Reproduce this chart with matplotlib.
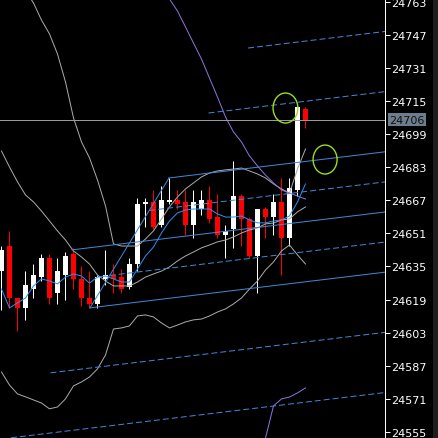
import matplotlib
matplotlib.use("Agg")
import matplotlib.pyplot as plt
from matplotlib.patches import Rectangle, Ellipse

plt.rcParams["font.family"] = ["Liberation Sans Narrow", "DejaVu Sans"]

# ---- candles, one per bar (bar 0 = leftmost visible) ----
OPEN = [24633, 24645, 24620, 24615, 24624, 24630, 24639, 24622, 24631, 24641,
        24629, 24620, 24617, 24629, 24631, 24630, 24625, 24636, 24665, 24666,
        24655, 24666, 24667, 24666, 24655, 24663, 24667, 24659, 24650, 24653,
        24669, 24658, 24640, 24663, 24659, 24666, 24649, 24672, 24711]
HIGH = [24645, 24652, 24620, 24633, 24636, 24641, 24641, 24639, 24642, 24644,
        24635, 24633, 24631, 24643, 24636, 24634, 24639, 24668, 24668, 24672,
        24674, 24678, 24672, 24672, 24672, 24672, 24674, 24670, 24655, 24686,
        24670, 24659, 24663, 24664, 24670, 24678, 24678, 24712, 24712]
LOW = [24614, 24615, 24604, 24609, 24620, 24628, 24617, 24617, 24619, 24624,
       24616, 24615, 24615, 24626, 24622, 24622, 24624, 24633, 24654, 24653,
       24654, 24665, 24663, 24650, 24649, 24660, 24656, 24649, 24639, 24644,
       24645, 24639, 24622, 24649, 24650, 24631, 24645, 24669, 24702]
CLOSE = [24643, 24620, 24615, 24626, 24631, 24639, 24620, 24633, 24640, 24629,
         24620, 24617, 24630, 24631, 24629, 24624, 24636, 24665, 24666, 24654,
         24667, 24667, 24665, 24655, 24666, 24667, 24658, 24650, 24652, 24669,
         24658, 24640, 24663, 24659, 24666, 24649, 24673, 24712, 24706]

# ---- indicators ----
FAST_MA = [24624.1, 24615.0, 24617.4, 24619.8, 24625.6, 24629.0, 24628.0, 24626.6,
           24629.9, 24631.4, 24630.4, 24627.0, 24629.9, 24630.4, 24629.0, 24627.5,
           24627.5, 24633.8, 24640.1, 24644.4, 24651.2, 24657.0, 24660.9, 24662.3,
           24662.8, 24662.8, 24662.8, 24660.4, 24658.9, 24658.9, 24659.4, 24657.5,
           24656.1, 24656.1, 24657.0, 24657.5, 24659.4, 24666.2, 24674.9]
BB_UPPER = [24788.5, 24781.2, 24774.0, 24768.2, 24762.4, 24754.1, 24747.4, 24737.7,
            24724.2, 24706.8, 24695.2, 24687.5, 24676.8, 24664.3, 24645.9, 24644.9,
            24644.9, 24644.9, 24648.3, 24652.2, 24658.0, 24663.8, 24668.6, 24672.5,
            24675.4, 24678.3, 24680.2, 24681.2, 24681.7, 24682.1, 24682.6, 24681.2,
            24679.7, 24677.8, 24674.9, 24672.5, 24670.5, 24682.1, 24691.8]
BB_MIDDLE = [24690.8, 24683.1, 24675.9, 24669.6, 24666.2, 24661.8, 24657.0, 24652.2,
             24647.8, 24642.5, 24639.6, 24636.2, 24630.9, 24628.0, 24625.6, 24625.6,
             24625.6, 24627.5, 24629.9, 24631.4, 24632.8, 24634.8, 24637.7, 24640.1,
             24642.0, 24644.0, 24645.4, 24646.9, 24647.8, 24649.3, 24651.2, 24652.7,
             24653.6, 24655.6, 24656.0, 24657.5, 24658.0, 24661.4, 24663.8]
BB_LOWER = [24584.0, 24577.7, 24573.4, 24572.0, 24570.5, 24569.0, 24566.2, 24567.1,
            24571.0, 24577.3, 24579.2, 24581.6, 24585.5, 24592.2, 24604.8, 24605.3,
            24606.3, 24611.1, 24611.6, 24610.6, 24607.7, 24605.3, 24606.7, 24608.2,
            24609.2, 24609.6, 24611.1, 24613.0, 24614.5, 24616.9, 24619.8, 24624.1,
            24628.0, 24633.3, 24637.2, 24642.5, 24645.4, 24640.6, 24636.2]
ENV_UP_FIRST = 19
ENV_UPPER = [24781.7, 24773.0, 24764.3, 24758.5, 24750.8, 24743.0, 24735.3, 24726.1,
             24716.9, 24707.3, 24700.0, 24695.2, 24688.4, 24683.6, 24679.2, 24675.4,
             24672.0, 24670.5, 24669.1, 24667.6]
ENV_LO_FIRST = 32
ENV_LOWER = [24532.3, 24552.1, 24567.6, 24571.0, 24571.9, 24573.9, 24576.3]

# ---- fibo channel: two anchors on the diagonal, slope in price per bar ----
CHAN_A = (11.06, 24615.0)   # level 1
CHAN_B = (20.94, 24677.8)   # level 0
CHAN_SLOPE = 0.468
CHAN_LEVELS = [-1, -0.5, 0, 0.25, 0.5, 0.75, 1, 1.5, 2]
CHAN_SOLID = [0, 0.5, 1]
CHAN_START_OVERRIDE = {0.5: 8.8}

BID = 24706
TICKS = [24555, 24571, 24587, 24603, 24619, 24635, 24651, 24667, 24683, 24699,
         24715, 24731, 24747, 24763]
# marked spots (bar, price, width in bars, height in price)
MARKS = [(35.5, 24711.6, 3.1, 14.5), (40.45, 24686.7, 3.0, 14.0)]

X_MIN, X_MAX = -0.1875, 47.94
Y_MIN, Y_MAX = 24552.1, 24764.3
PX = 0.72  # one pixel in points at dpi 100

fig = plt.figure(figsize=(4.38, 4.39), dpi=100, facecolor="black")
ax = fig.add_axes([0, 0, 385 / 438, 1])
ax.set_facecolor("black")
ax.set_xlim(X_MIN, X_MAX)
ax.set_ylim(Y_MIN, Y_MAX)

# candles
for i, (o, h, l, c) in enumerate(zip(OPEN, HIGH, LOW, CLOSE)):
    col = "white" if c >= o else "#ff0000"
    ax.vlines(i, l, h, color=col, lw=PX, zorder=2)
    lo = min(o, c)
    ax.add_patch(Rectangle((i - 0.3, lo), 0.6, max(abs(c - o), 0.6),
                           fc=col, ec="none", zorder=2))

bars = list(range(len(CLOSE)))
bb_col = "#a9a9a9"
ax.plot(bars, BB_UPPER, color=bb_col, lw=PX, zorder=3)
ax.plot(bars, BB_MIDDLE, color=bb_col, lw=PX, zorder=3)
ax.plot(bars, BB_LOWER, color=bb_col, lw=PX, zorder=3)
ax.plot(range(ENV_UP_FIRST, ENV_UP_FIRST + len(ENV_UPPER)), ENV_UPPER,
        color="#9370db", lw=PX, zorder=3)
ax.plot(range(ENV_LO_FIRST, ENV_LO_FIRST + len(ENV_LOWER)), ENV_LOWER,
        color="#9370db", lw=PX, zorder=3)
ax.plot(bars, FAST_MA, color="#2990f5", lw=PX, zorder=4)

# channel
chan_col = "#3f88d8"
dx, dy = CHAN_A[0] - CHAN_B[0], CHAN_A[1] - CHAN_B[1]
ax.plot([CHAN_A[0], CHAN_B[0]], [CHAN_A[1], CHAN_B[1]], color=chan_col, lw=PX, zorder=4)
for k in CHAN_LEVELS:
    x0 = CHAN_B[0] + k * dx
    y0 = CHAN_B[1] + k * dy
    if k in CHAN_START_OVERRIDE:
        xs = CHAN_START_OVERRIDE[k]
        y0 = y0 + CHAN_SLOPE * (xs - x0)
        x0 = xs
    y1 = y0 + CHAN_SLOPE * (X_MAX - x0)
    ls = "-" if k in CHAN_SOLID else (0, (6, 3))
    ax.plot([x0, X_MAX], [y0, y1], color=chan_col, lw=PX, ls=ls, zorder=4)

ax.axhline(BID, color="#9a9a9a", lw=PX, zorder=4)

for bx, by, w, h in MARKS:
    ax.add_patch(Ellipse((bx, by), w, h, fill=False, ec="#9ade1c", lw=1.0, zorder=5))

# price axis on the right
for s in ("top", "left", "bottom"):
    ax.spines[s].set_visible(False)
ax.spines["right"].set_color("white")
ax.spines["right"].set_linewidth(PX)
ax.set_xticks([])
ax.yaxis.tick_right()
ax.set_yticks(TICKS)
ax.set_yticklabels([str(t) for t in TICKS])
ax.tick_params(axis="y", colors="white", length=3.6, width=PX, pad=0.8, labelsize=8)

ax.annotate(str(BID), xy=(1, BID), xycoords=("axes fraction", "data"),
            xytext=(4, 0), textcoords="offset pixels", ha="left", va="center",
            fontsize=8, color="#111111", annotation_clip=False,
            bbox=dict(boxstyle="square,pad=0.12", fc="#6c7d8d", ec="none"))

fig.patches.append(Rectangle((433 / 438, 0), 5 / 438, 1, transform=fig.transFigure,
                             fc="#1e1e1e", ec="none"))

fig.savefig("out.png", dpi=100, facecolor="black")
